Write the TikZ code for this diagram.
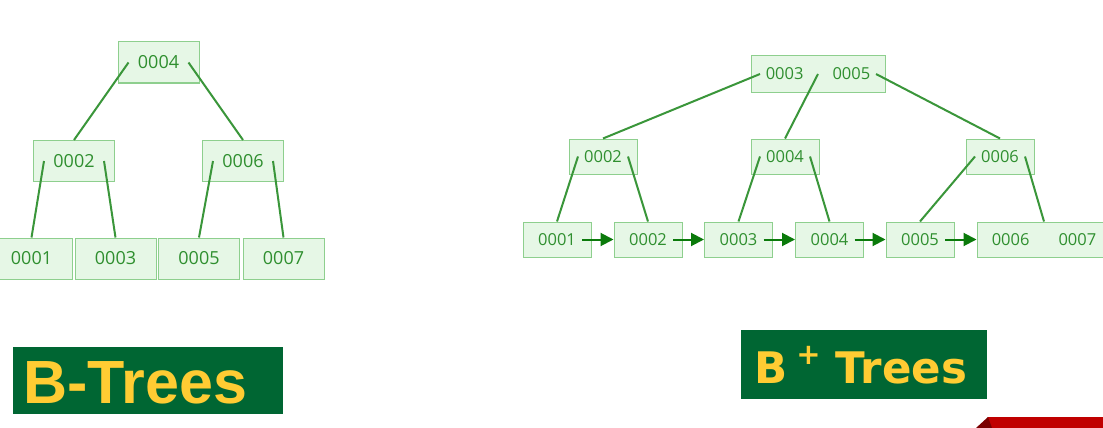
\documentclass[tikz,border=0pt]{standalone}
\usepackage{fontspec}
\setmainfont{Open Sans}
\newfontfamily\titleA{Liberation Sans}
\newfontfamily\titleB{DejaVu Sans}
\usetikzlibrary{arrows.meta}
\definecolor{boxfill}{HTML}{E6F7E6}
\definecolor{boxline}{HTML}{8ECF8E}
\definecolor{txtgreen}{HTML}{2F8F2F}
\definecolor{linkgreen}{HTML}{3A963A}
\definecolor{arrowgreen}{HTML}{0B7A0B}
\definecolor{bannerbg}{HTML}{006633}
\definecolor{banneryellow}{HTML}{FFCC33}
\definecolor{tabred}{HTML}{C00000}
\definecolor{tabdark}{HTML}{7A0000}
\begin{document}
\begin{tikzpicture}[x=1pt,y=-1pt,
  keybox/.style={draw=boxline, fill=boxfill, line width=1pt, inner sep=0pt, text=txtgreen},
  bnode/.style={keybox, minimum width=81pt, minimum height=41pt, font=\fontsize{18}{18}\selectfont},
  pnode/.style={keybox, minimum width=68pt, minimum height=35pt, font=\fontsize{16.5}{16.5}\selectfont},
  link/.style={draw=linkgreen, line width=2pt},
  chain/.style={draw=arrowgreen, line width=2pt, -{Triangle[length=13pt,width=13pt]}},
  banner/.style={fill=bannerbg, inner sep=0pt},
  bannertext/.style={text=banneryellow, inner sep=0pt, anchor=base west},
]
\useasboundingbox (0,0) rectangle (1103,428);
\fill[white] (0,0) rectangle (1103,428);

% ---------- B-tree ----------
\node[bnode] (b4) at (158.5,62.5) {0004};
\node[bnode] (b2) at (74,161) {0002};
\node[bnode] (b6) at (243,161) {0006};
\node[bnode] (b1) at (31.5,258.5) {0001};
\node[bnode] (b3) at (115.5,258.5) {0003};
\node[bnode] (b5) at (199,258.5) {0005};
\node[bnode] (b7) at (283.5,258.5) {0007};

\draw[link] ([xshift=-30pt]b4.center) -- (b2.north);
\draw[link] ([xshift=30pt]b4.center) -- (b6.north);
\draw[link] ([xshift=-30pt]b2.center) -- (b1.north);
\draw[link] ([xshift=30pt]b2.center) -- (b3.north);
\draw[link] ([xshift=-30pt]b6.center) -- (b5.north);
\draw[link] ([xshift=30pt]b6.center) -- (b7.north);

% ---------- B+ tree ----------
\node[pnode, minimum width=134pt, minimum height=36pt] (r) at (818,74) {0003\hspace{29pt}0005};
\node[pnode] (p2) at (603,156.5) {0002};
\node[pnode] (p4) at (785,156.5) {0004};
\node[pnode] (p6) at (1000,156.5) {0006};
\node[pnode] (l1) at (557,239.5) {0001};
\node[pnode] (l2) at (648,239.5) {0002};
\node[pnode] (l3) at (738.5,239.5) {0003};
\node[pnode] (l4) at (829.5,239.5) {0004};
\node[pnode] (l5) at (920,239.5) {0005};
\node[pnode, minimum width=134pt] (l6) at (1044,239.5) {0006\hspace{29pt}0007};

\draw[link] ([xshift=-58pt]r.center) -- (p2.north);
\draw[link] (r.center) -- (p4.north);
\draw[link] ([xshift=58pt]r.center) -- (p6.north);
\draw[link] ([xshift=-25pt]p2.center) -- (l1.north);
\draw[link] ([xshift=25pt]p2.center) -- (l2.north);
\draw[link] ([xshift=-25pt]p4.center) -- (l3.north);
\draw[link] ([xshift=25pt]p4.center) -- (l4.north);
\draw[link] ([xshift=-25pt]p6.center) -- (l5.north);
\draw[link] ([xshift=25pt]p6.center) -- (l6.north);

\draw[chain] ([xshift=25pt]l1.center) -- (l2.west);
\draw[chain] ([xshift=25pt]l2.center) -- (l3.west);
\draw[chain] ([xshift=25pt]l3.center) -- (l4.west);
\draw[chain] ([xshift=25pt]l4.center) -- (l5.west);
\draw[chain] ([xshift=25pt]l5.center) -- (l6.west);

% ---------- banners ----------
\node[banner, minimum width=270pt, minimum height=67pt] (bt) at (148,380.5) {};
\node[bannertext, font=\titleA\bfseries\fontsize{61}{61}\selectfont] (btt) at (23,403) {B-Trees};

\node[banner, minimum width=246pt, minimum height=69pt] (pt) at (864,364.5) {};
\node[bannertext, font=\titleB\bfseries\fontsize{43.5}{43.5}\selectfont] (ptt) at (754,383.5)
  {B\hspace{9pt}\raisebox{19pt}{\fontsize{29}{29}\selectfont +}\hspace{15pt}Trees};

% ---------- corner tab ----------
\fill[tabred] (985,428) -- (988,417) -- (1103,417) -- (1103,428) -- cycle;
\fill[tabdark] (976,428) -- (988,417) -- (992,428) -- cycle;
\end{tikzpicture}
\end{document}
